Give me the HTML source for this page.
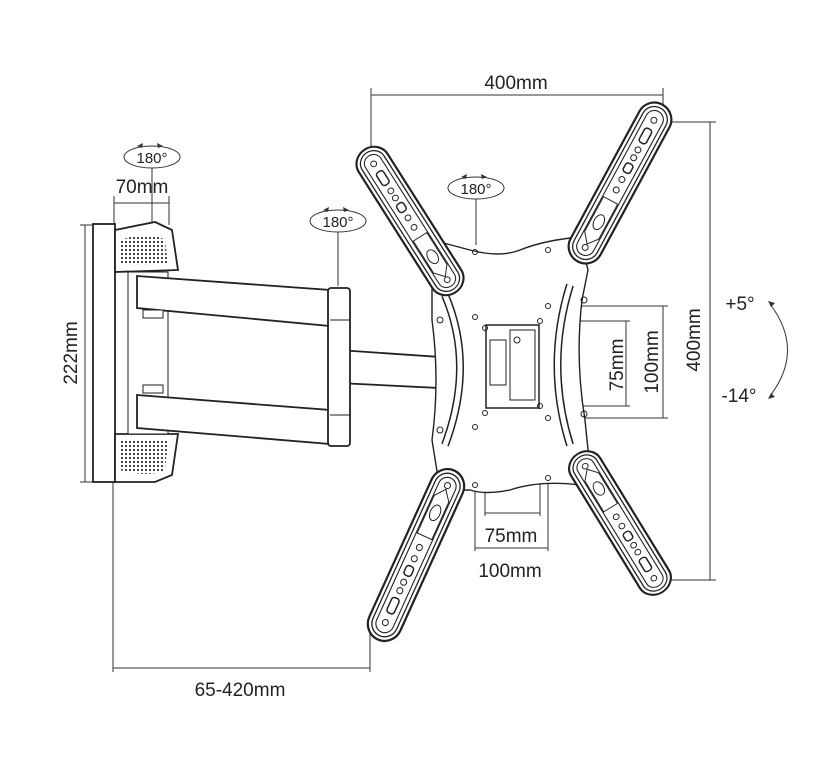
<!DOCTYPE html>
<html><head><meta charset="utf-8"><style>
html,body{margin:0;padding:0;background:#fff;}
svg{display:block;font-family:"Liberation Sans",Arial,sans-serif;}
</style></head><body>
<svg width="835" height="768" viewBox="0 0 835 768" xmlns="http://www.w3.org/2000/svg">
<defs>
<pattern id="dots" width="4" height="4" patternUnits="userSpaceOnUse"><rect width="4" height="4" fill="#fff"/><circle cx="2" cy="2" r="1.1" fill="#333"/></pattern>
<g id="strip">
 <rect x="-90" y="-17" width="180" height="34" rx="17" fill="#fff" stroke="#222" stroke-width="2.2"/>
 <rect x="-86" y="-13" width="172" height="26" rx="13" fill="none" stroke="#222" stroke-width="1.3"/>
 <rect x="-82" y="-9" width="164" height="18" rx="9" fill="none" stroke="#222" stroke-width="1.1"/>
 <circle cx="-72" cy="0" r="3" fill="none" stroke="#222"/>
 <rect x="-62" y="-4" width="16" height="8" rx="3" fill="none" stroke="#222" stroke-width="1.5"/>
 <circle cx="-38" cy="0" r="3" fill="none" stroke="#222"/>
 <circle cx="-29" cy="0" r="3" fill="none" stroke="#222"/>
 <rect x="-22" y="-4" width="10" height="8" rx="3" fill="none" stroke="#222" stroke-width="1.5"/>
 <circle cx="-4" cy="0" r="3" fill="none" stroke="#222"/>
 <circle cx="8" cy="0" r="3" fill="none" stroke="#222"/>
 <path d="M20,-8 L60,-8 L70,0 L60,8 L20,8 Z" fill="none" stroke="#222"/>
 <ellipse cx="45" cy="0" rx="8" ry="5" fill="none" stroke="#222"/>
 <circle cx="74" cy="0" r="3" fill="none" stroke="#222"/>
</g>
</defs>

<g stroke="#333" stroke-width="1" fill="none">
 <line x1="371" y1="95" x2="663" y2="95"/>
 <line x1="371" y1="88" x2="371" y2="150"/>
 <line x1="663" y1="88" x2="663" y2="105"/>
 <line x1="710" y1="122" x2="710" y2="580"/>
 <line x1="668" y1="122" x2="716" y2="122"/>
 <line x1="668" y1="580" x2="716" y2="580"/>
 <line x1="85" y1="225" x2="85" y2="482"/>
 <line x1="80" y1="225" x2="112" y2="225"/>
 <line x1="80" y1="482" x2="112" y2="482"/>
 <line x1="113" y1="482" x2="113" y2="672"/>
 <line x1="370" y1="630" x2="370" y2="672"/>
 <line x1="113" y1="668" x2="370" y2="668"/>
 <line x1="114" y1="196" x2="114" y2="228"/>
 <line x1="169" y1="196" x2="169" y2="225"/>
 <line x1="114" y1="203" x2="169" y2="203"/>
 <line x1="152" y1="168" x2="152" y2="222"/>
 <line x1="338" y1="232" x2="338" y2="286"/>
 <line x1="476" y1="199" x2="476" y2="245"/>
 <line x1="540" y1="321" x2="630" y2="321"/>
 <line x1="540" y1="406" x2="630" y2="406"/>
 <line x1="626" y1="321" x2="626" y2="406"/>
 <line x1="550" y1="306" x2="668" y2="306"/>
 <line x1="550" y1="418" x2="668" y2="418"/>
 <line x1="663" y1="306" x2="663" y2="418"/>
 <line x1="485" y1="412" x2="485" y2="516"/>
 <line x1="540" y1="406" x2="540" y2="516"/>
 <line x1="485" y1="513" x2="540" y2="513"/>
 <line x1="475" y1="418" x2="475" y2="551"/>
 <line x1="548" y1="420" x2="548" y2="551"/>
 <line x1="475" y1="548" x2="548" y2="548"/>
 <path d="M770,304 Q805,350 770,396"/>
</g>
<path d="M768,301 L775,303 L771,307Z M768,399 L775,397 L771,393Z" fill="#333"/>

<g fill="none" stroke="#333" stroke-width="1">
 <ellipse cx="152" cy="157" rx="28" ry="11"/>
 <ellipse cx="338" cy="221" rx="28" ry="11"/>
 <ellipse cx="476" cy="188" rx="28" ry="11"/>
</g>
<g fill="#333">
 <path d="M137,146 l6,-3 l-1,5z M163,146 l-6,-3 l1,5z"/>
 <path d="M323,210 l6,-3 l-1,5z M349,210 l-6,-3 l1,5z"/>
 <path d="M461,177 l6,-3 l-1,5z M487,177 l-6,-3 l1,5z"/>
</g>

<g stroke="#222" stroke-width="1.8" fill="#fff">
 <rect x="93" y="224" width="22" height="258"/>
 <path d="M115,230 L155,222 L172,230 L178,270 L115,272 Z"/>
 <path d="M115,434 L178,434 L172,475 L155,482 L115,482 Z"/>
 <rect x="128" y="272" width="40" height="162" fill="#fff" stroke-width="1"/>
 <path d="M137,276 L330,290 L330,326 L137,308 Z"/>
 <path d="M137,395 L330,410 L330,444 L137,428 Z"/>
 <path d="M338,350 L440,357 L440,388 L338,383 Z"/>
 <rect x="328" y="288" width="22" height="158" rx="3"/>
</g>
<path d="M120,240 Q150,230 165,240 L168,265 L120,265Z" fill="url(#dots)"/>
<path d="M120,440 L168,440 L165,470 Q150,478 120,470Z" fill="url(#dots)"/>
<g stroke="#222" stroke-width="1" fill="#fff">
 <rect x="143" y="310" width="20" height="8"/>
 <rect x="143" y="385" width="20" height="8"/>
 <line x1="330" y1="320" x2="350" y2="320"/><line x1="330" y1="415" x2="350" y2="415"/>
</g>

<path d="M432,240 L470,250 Q500,258 520,250 Q545,240 580,237 L588,270 L582,300 Q575,360 585,420 L590,470 L580,485 Q540,480 510,490 Q485,495 470,490 L440,490 L432,440 Q440,380 432,320 Z" fill="#fff" stroke="#222" stroke-width="1.4"/>
<path d="M445,295 Q475,365 445,445" fill="none" stroke="#222" stroke-width="8"/>
<path d="M445,295 Q475,365 445,445" fill="none" stroke="#fff" stroke-width="5"/>
<path d="M570,285 Q545,365 570,445" fill="none" stroke="#222" stroke-width="8"/>
<path d="M570,285 Q545,365 570,445" fill="none" stroke="#fff" stroke-width="5"/>
<rect x="486" y="325" width="53" height="83" fill="#fff" stroke="#222" stroke-width="1.5"/>
<rect x="490" y="340" width="16" height="45" fill="none" stroke="#222"/>
<rect x="510" y="330" width="25" height="70" fill="none" stroke="#222"/>
<circle cx="517" cy="340" r="3" fill="none" stroke="#222"/>
<g fill="none" stroke="#222">
 <circle cx="475" cy="317" r="2.5"/><circle cx="485" cy="328" r="2.5"/><circle cx="540" cy="321" r="2.5"/><circle cx="548" cy="306" r="2.5"/>
 <circle cx="485" cy="413" r="2.5"/><circle cx="540" cy="406" r="2.5"/><circle cx="475" cy="427" r="2.5"/><circle cx="548" cy="418" r="2.5"/>
 <circle cx="475" cy="252" r="2.5"/><circle cx="548" cy="250" r="2.5"/><circle cx="475" cy="485" r="2.5"/><circle cx="548" cy="478" r="2.5"/>
 <circle cx="440" cy="320" r="3"/><circle cx="440" cy="430" r="3"/><circle cx="584" cy="300" r="3"/><circle cx="584" cy="414" r="3"/>
</g>

<use href="#strip" transform="translate(410,221) rotate(57.6) scale(0.94,1)"/>
<use href="#strip" transform="translate(620,183) rotate(118.4) scale(0.99,1)"/>
<use href="#strip" transform="translate(416,555) rotate(-65.6) scale(1.03,1)"/>
<use href="#strip" transform="translate(620,523) rotate(238.5) scale(0.9,1)"/>

<g fill="#222" font-size="19">
 <text x="516" y="89" text-anchor="middle">400mm</text>
 <text x="142" y="193" text-anchor="middle">70mm</text>
 <text x="240" y="696" text-anchor="middle">65-420mm</text>
 <text x="511" y="542" text-anchor="middle">75mm</text>
 <text x="510" y="577" text-anchor="middle">100mm</text>
 <text x="740" y="310" text-anchor="middle">+5°</text>
 <text x="739" y="402" text-anchor="middle">-14°</text>
 <text transform="translate(77,353) rotate(-90)" text-anchor="middle">222mm</text>
 <text transform="translate(700,340) rotate(-90)" text-anchor="middle">400mm</text>
 <text transform="translate(623,365) rotate(-90)" text-anchor="middle">75mm</text>
 <text transform="translate(658,362) rotate(-90)" text-anchor="middle">100mm</text>
</g>
<g fill="#222" font-size="15" text-anchor="middle">
 <text x="152" y="163">180°</text>
 <text x="338" y="227">180°</text>
 <text x="476" y="194">180°</text>
</g>
</svg>
</body></html>
